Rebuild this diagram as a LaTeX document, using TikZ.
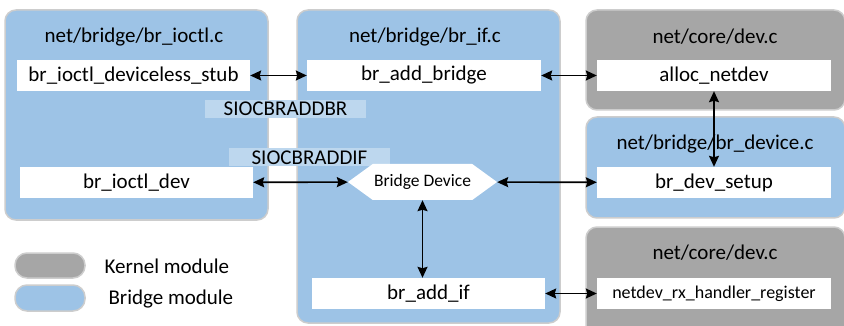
\documentclass[tikz,border=0pt]{standalone}
\usepackage{fontspec}
\setmainfont{Carlito}
\usetikzlibrary{arrows.meta,shapes.symbols}

\definecolor{bridgeblue}{RGB}{157,195,230}
\definecolor{kernelgray}{RGB}{166,166,166}
\definecolor{cmdblue}{RGB}{189,215,238}
\definecolor{rimgray}{RGB}{205,205,205}

\tikzset{
  module/.style={draw=rimgray, line width=1.5pt, rounded corners=11pt},
  bridgemod/.style={module, fill=bridgeblue},
  kernelmod/.style={module, fill=kernelgray},
  title/.style={font=\fontsize{21}{24}\selectfont},
  func/.style={fill=white, minimum width=233pt, minimum height=31pt, inner sep=0pt,
    font=\fontsize{21}{24}\selectfont},
  cmd/.style={fill=cmdblue, minimum width=161pt, minimum height=18pt, inner sep=0pt,
    font=\fontsize{21}{24}\selectfont},
  link/.style={{Stealth[length=11pt,width=10pt,inset=1.5pt]}-{Stealth[length=11pt,width=10pt,inset=1.5pt]}, line width=1.6pt},
}

\begin{document}
\begin{tikzpicture}[x=1pt, y=-1pt]
   \useasboundingbox (0,0) rectangle (844,326);
   % module panels
   \draw[bridgemod] (5,10) rectangle (268,220);
   \draw[bridgemod] (297,10) rectangle (560,323);
   \draw[kernelmod] (586,10) rectangle (845,110);
   \draw[bridgemod] (586,117) rectangle (845,218);
   \draw[kernelmod] (586,227) rectangle (845,345);
   \node[title] (ioctlfile) at (134,37) {net/bridge/br\_ioctl.c};
   \node[title] (iffile) at (425,37) {net/bridge/br\_if.c};
   \node[title] (devfile) at (715,37) {net/core/dev.c};
   \node[title] (devicefile) at (715,144) {net/bridge/br\_device.c};
   \node[title] (rxfile) at (715,253) {net/core/dev.c};
   % ioctl commands
   \node[cmd] (addbr) at (285.5,109) {SIOCBRADDBR};
   \node[cmd] (addif) at (309.5,157.5) {SIOCBRADDIF};
   % functions
   \node[func] (stub) at (133.5,75.5) {br\_ioctl\_deviceless\_stub};
   \node[func] (ioctldev) at (136.5,182.5) {br\_ioctl\_dev};
   \node[func, minimum width=234pt] (addbridge) at (424,75.5) {br\_add\_bridge};
   \node[func] (addiffn) at (428.5,293.5) {br\_add\_if};
   \node[func, minimum width=234pt] (allocdev) at (714,75.5) {alloc\_netdev};
   \node[func, minimum width=234pt] (devsetup) at (714,182.5) {br\_dev\_setup};
   \node[func, minimum width=234pt, font=\fontsize{18}{20}\selectfont] (rxreg) at (714,293.5) {netdev\_rx\_handler\_register};
   \node[fill=white, shape=signal, signal to=west and east, signal pointer angle=72,
     minimum width=149pt, minimum height=36pt, inner sep=0pt,
     font=\fontsize{17.5}{20}\selectfont] (brdev) at (422.5,182) {Bridge Device};
   % connectors
   \draw[link] (stub) -- (addbridge);
   \draw[link] (addbridge) -- (allocdev);
   \draw[link] (ioctldev) -- (brdev);
   \draw[link] (brdev) -- (devsetup);
   \draw[link] (addiffn) -- (rxreg);
   \draw[link] (brdev.south) -- (brdev.south |- addiffn.north);
   \draw[link] (allocdev.south) -- (devsetup.north);
   % legend
   \draw[kernelmod, rounded corners=12pt] (15,253) rectangle (85,278);
   \draw[bridgemod, rounded corners=12pt] (15,285) rectangle (85,311);
   \node[anchor=west, title] (kernelkey) at (101,266) {Kernel module};
   \node[anchor=west, title] (bridgekey) at (105,299) {Bridge module};
\end{tikzpicture}
\end{document}
